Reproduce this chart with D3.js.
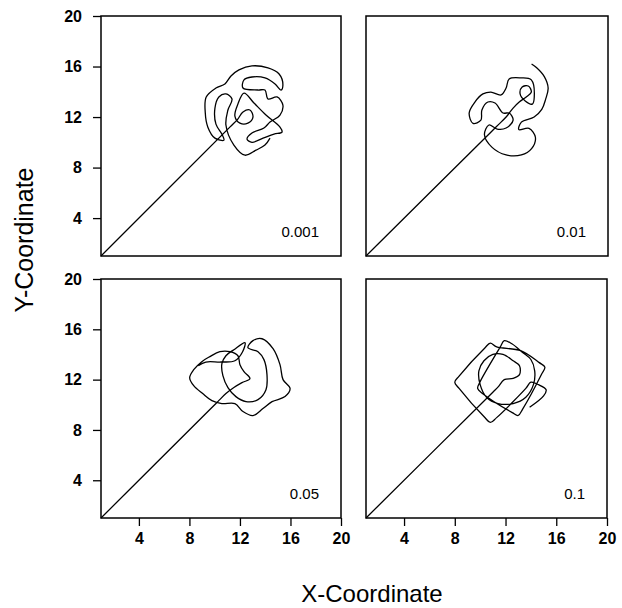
<!DOCTYPE html>
<html>
<head>
<meta charset="utf-8">
<script src="https://cdn.jsdelivr.net/npm/d3@7"></script>
<style>
  html, body { margin: 0; padding: 0; background: #fff; }
  svg { display: block; }
</style>
</head>
<body>
<svg id="chart" width="622" height="608"></svg>
<script>
// ---- data (data units) ----
const panelLabels = ["0.001", "0.01", "0.05", "0.1"];
const tickValues = [4, 8, 12, 16, 20];
const domainMin = 1, domainMax = 20;

const x001 = [1, 11.2, 11.8, 12.24, 12.79, 13.03, 12.63, 12.0, 11.6, 11.84, 12.32, 13.11, 14.06, 15.17, 15.33, 14.7, 13.83, 12.95, 12.56, 12.95, 13.9, 14.38, 15.17, 15.4, 14.94, 14.22, 13.98, 13.43, 12.24, 12.32, 12.95, 13.98, 14.78, 15.25, 15.4, 15.1, 14.22, 12.95, 11.92, 11.29, 10.81, 10.1, 9.33, 9.25, 9.46, 10.02, 10.73, 10.57, 10.1, 10.02, 10.33, 10.89, 11.37, 11.05, 10.89, 11.52, 12.4, 13.27, 13.98, 14.38];
const y001 = [1, 11.2, 11.8, 12.40, 12.56, 12.0, 11.52, 11.52, 12.08, 13.03, 13.9, 13.11, 12.16, 11.2, 10.81, 10.65, 10.33, 10.0, 10.25, 10.73, 11.13, 11.6, 12.16, 12.95, 13.59, 13.43, 14.14, 14.14, 14.3, 14.94, 15.17, 15.1, 14.62, 14.14, 14.54, 15.41, 15.89, 16.05, 15.73, 15.25, 14.62, 14.3, 13.59, 12.4, 11.2, 10.33, 10.17, 10.65, 11.44, 12.71, 13.59, 13.83, 13.43, 12.56, 11.37, 9.78, 8.98, 9.38, 9.78, 10.33];

const x01 = [1, 10.8, 11.4, 12.0, 12.55, 13.03, 13.58, 13.98, 13.74, 13.26, 13.1, 13.5, 14.06, 14.21, 13.98, 13.19, 12.24, 12.0, 11.6, 10.81, 10.18, 9.55, 9.1, 9.4, 10.02, 10.1, 10.57, 11.13, 11.76, 12.24, 12.55, 12.0, 11.29, 10.65, 10.3, 10.9, 12.0, 13.2, 14.0, 14.3, 13.8, 13.0, 13.2, 14.2, 14.8, 15.1, 15.3, 15.0, 14.4, 14.0];
const y01 = [1, 10.8, 11.4, 12.0, 12.71, 13.19, 13.59, 13.98, 14.46, 14.38, 13.83, 13.27, 13.03, 13.59, 14.94, 15.1, 15.02, 14.3, 13.75, 13.98, 13.83, 13.19, 12.32, 11.5, 11.76, 12.56, 13.19, 13.11, 12.32, 12.32, 11.76, 11.13, 11.05, 11.37, 10.6, 9.6, 9.0, 9.0, 9.5, 10.4, 11.1, 11.0, 11.6, 12.0, 12.6, 13.4, 14.3, 15.2, 15.9, 16.2];

const x05 = [1, 9.6, 10.25, 10.89, 11.52, 12.16, 12.79, 12.32, 12.0, 11.84, 11.21, 10.41, 9.62, 8.98, 8.34, 8.02, 8.34, 9.05, 9.78, 10.57, 11.6, 12.24, 13.03, 13.82, 14.54, 15.57, 15.97, 15.41, 15.17, 14.62, 13.75, 13.03, 12.63, 13.43, 13.9, 14.14, 14.06, 13.43, 12.48, 11.68, 11.05, 10.65, 10.57, 10.89, 11.52, 12.4, 12.2, 11.6, 10.5, 9.3, 8.7];
const y05 = [1, 9.6, 10.25, 10.89, 11.37, 11.76, 12.08, 12.63, 13.19, 13.9, 14.22, 14.22, 13.83, 13.43, 12.79, 12.16, 11.52, 10.89, 10.33, 10.1, 10.1, 9.46, 9.14, 9.7, 10.25, 10.65, 11.29, 12.0, 13.19, 14.46, 15.25, 15.1, 14.54, 14.22, 13.59, 12.4, 11.2, 10.41, 10.25, 10.65, 11.37, 12.32, 13.27, 13.9, 14.38, 14.94, 14.2, 13.5, 13.4, 13.4, 13.1];

const x1 = [1, 11.0, 11.4, 11.9, 12.6, 13.1, 13.1, 12.6, 11.8, 11.0, 10.3, 9.9, 10.0, 10.5, 11.4, 12.6, 13.6, 14.2, 14.3, 14.0, 13.3, 12.5, 11.9, 11.57, 9.98, 9.8, 10.21, 12.53, 13.0, 13.35, 14.84, 15.1, 14.66, 13.2, 11.3, 10.8, 10.37, 8.34, 8.0, 8.34, 10.37, 10.8, 11.3, 13.6, 14.0, 14.6, 15.2, 15.0, 13.9];
const y1 = [1, 11.0, 11.4, 12.0, 12.1, 12.4, 13.1, 13.5, 14.0, 14.0, 13.5, 12.7, 11.6, 10.6, 10.1, 10.1, 10.6, 11.6, 12.7, 13.6, 14.2, 14.85, 15.1, 14.57, 11.8, 11.3, 10.88, 9.38, 9.15, 9.66, 12.43, 13.0, 13.35, 14.3, 14.6, 14.9, 14.52, 12.28, 11.8, 11.3, 8.99, 8.6, 8.98, 11.3, 11.8, 11.6, 11.2, 10.7, 9.8];

const seriesX = [x001, x01, x05, x1];
const seriesY = [y001, y01, y05, y1];

// ---- layout ----
const panels = [
  { x0: 101, y0: 16, w: 240, h: 240, showY: true,  showX: false },
  { x0: 366, y0: 16, w: 242, h: 240, showY: false, showX: false },
  { x0: 101, y0: 279, w: 240, h: 239, showY: true,  showX: true },
  { x0: 366, y0: 279, w: 241, h: 239, showY: false, showX: true }
];

const svg = d3.select("#chart");
const font = "'Liberation Sans', Arial, Helvetica, sans-serif";

panels.forEach((p, i) => {
  const g = svg.append("g").attr("transform", `translate(${p.x0},${p.y0})`);
  const x = d3.scaleLinear().domain([domainMin, domainMax]).range([0, p.w]);
  const y = d3.scaleLinear().domain([domainMin, domainMax]).range([p.h, 0]);

  const pts = seriesX[i].map((v, k) => [v, seriesY[i][k]]);
  const line = d3.line().x(d => x(d[0])).y(d => y(d[1])).curve(d3.curveCatmullRom.alpha(0.5));
  g.append("path").datum(pts).attr("d", line)
    .attr("fill", "none").attr("stroke", "#000").attr("stroke-width", 1.3)
    .attr("stroke-linejoin", "round");

  g.append("rect").attr("x", 0).attr("y", 0).attr("width", p.w).attr("height", p.h)
    .attr("fill", "none").attr("stroke", "#000").attr("stroke-width", 1.5);

  if (p.showY) {
    const ax = g.append("g").call(d3.axisLeft(y).tickValues(tickValues).tickSize(8).tickPadding(11));
    ax.select(".domain").remove();
    ax.selectAll("line").attr("stroke", "#000").attr("stroke-width", 1.3);
    ax.selectAll("text").attr("font-family", font).attr("font-size", 16).attr("font-weight", "bold").attr("fill", "#000");
  }
  if (p.showX) {
    const ax = g.append("g").attr("transform", `translate(0,${p.h})`)
      .call(d3.axisBottom(x).tickValues(tickValues).tickSize(8).tickPadding(7));
    ax.select(".domain").remove();
    ax.selectAll("line").attr("stroke", "#000").attr("stroke-width", 1.3);
    ax.selectAll("text").attr("font-family", font).attr("font-size", 16).attr("font-weight", "bold").attr("fill", "#000");
  }

  g.append("text").attr("x", p.w - 22).attr("y", p.h - 19)
    .attr("text-anchor", "end").attr("font-family", font).attr("font-size", 15)
    .attr("fill", "#000").text(panelLabels[i]);
});

svg.append("text").attr("x", 372).attr("y", 602).attr("text-anchor", "middle")
  .attr("font-family", font).attr("font-size", 24).attr("fill", "#000").text("X-Coordinate");

svg.append("text").attr("transform", "translate(33,240) rotate(-90)").attr("text-anchor", "middle")
  .attr("font-family", font).attr("font-size", 25).attr("fill", "#000").text("Y-Coordinate");
</script>
</body>
</html>
